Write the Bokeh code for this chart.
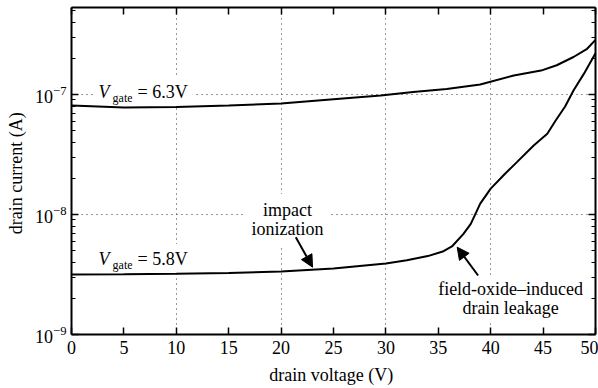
from bokeh.plotting import figure
from bokeh.models import (FixedTicker, LinearAxis, LogAxis, Label, Arrow, NormalHead, Range1d,
                          CustomJSTickFormatter)
from bokeh.embed import file_html
from bokeh.resources import INLINE

# ---------------- data ----------------
v_hi = [0, 5, 10, 15, 20, 25, 29.5, 32.6, 35.8, 39, 42.2, 44.8, 46.3, 47.9, 49.2, 50]
i_hi = [8.1e-8, 7.8e-8, 7.85e-8, 8.1e-8, 8.4e-8, 9.1e-8, 9.8e-8, 1.05e-7, 1.11e-7,
        1.21e-7, 1.44e-7, 1.58e-7, 1.75e-7, 2.05e-7, 2.4e-7, 2.85e-7]

v_lo = [0, 5, 10, 15, 20, 25, 30, 32, 34, 35.5, 36.3, 37.4, 38.1, 39, 40, 41.3, 42.5,
        44.1, 45.4, 46.2, 47.1, 47.9, 48.9, 49.8, 50]
i_lo = [3.16e-9, 3.17e-9, 3.2e-9, 3.25e-9, 3.35e-9, 3.55e-9, 3.9e-9, 4.15e-9, 4.5e-9,
        4.94e-9, 5.41e-9, 6.9e-9, 8.36e-9, 1.23e-8, 1.64e-8, 2.15e-8, 2.73e-8, 3.76e-8,
        4.7e-8, 6.07e-8, 7.94e-8, 1.08e-7, 1.49e-7, 2.05e-7, 2.2e-7]

x_ticks = [0, 5, 10, 15, 20, 25, 30, 35, 40, 45, 50]
y_ticks = [1e-9, 1e-8, 1e-7]
y_minor = [m * d for d in y_ticks for m in range(2, 10)]
x_grid = [10, 20, 30, 40]
y_grid = [1e-8, 1e-7]

label_hi = "= 6.3V"
label_lo = "= 5.8V"
x_title = "drain voltage  (V)"
y_title = "drain current  (A)"

FONT = "Liberation Serif"
FS = "18px"

p = figure(width=598, height=388, x_range=Range1d(0, 50), y_range=Range1d(1e-9, 5.3e-7),
           y_axis_type="log", output_backend="svg", toolbar_location=None,
           min_border_left=71, min_border_right=3, min_border_top=7, min_border_bottom=54)
p.outline_line_color = None
p.background_fill_color = "white"
p.border_fill_color = "white"


def style_axis(ax, show_labels=True):
    ax.axis_line_color = "black"
    ax.axis_line_width = 2
    ax.major_tick_in = 7
    ax.major_tick_out = 0
    ax.major_tick_line_width = 1.5
    ax.major_tick_line_color = "black"
    ax.minor_tick_in = 4
    ax.minor_tick_out = 0
    ax.minor_tick_line_width = 1.2
    ax.minor_tick_line_color = "black"
    ax.major_label_text_font = FONT
    ax.major_label_text_color = "black"
    ax.axis_label_text_font = FONT
    ax.axis_label_text_font_style = "normal"
    ax.axis_label_text_font_size = FS
    ax.axis_label_text_color = "black"
    if show_labels:
        ax.major_label_text_font_size = FS
    else:
        ax.major_label_text_font_size = "1px"
        ax.formatter = CustomJSTickFormatter(code="return ''")
        ax.major_label_standoff = 0


xax = p.xaxis[0]
xax.ticker = FixedTicker(ticks=x_ticks)
xax.axis_label = x_title
style_axis(xax)
xax.major_label_standoff = 6
xax.axis_label_standoff = 8

yax = p.yaxis[0]
yax.ticker = FixedTicker(ticks=y_ticks, minor_ticks=y_minor)
yax.axis_label = y_title
style_axis(yax)
yax.major_label_standoff = 5
yax.axis_label_standoff = 6

top = LinearAxis(ticker=FixedTicker(ticks=x_ticks))
style_axis(top, False)
p.add_layout(top, "above")

right = LogAxis(ticker=FixedTicker(ticks=y_ticks, minor_ticks=y_minor))
style_axis(right, False)
p.add_layout(right, "right")

p.xgrid.ticker = FixedTicker(ticks=x_grid)
p.ygrid.ticker = FixedTicker(ticks=y_grid)
for g in (p.xgrid, p.ygrid):
    g.grid_line_color = "#333333"
    g.grid_line_dash = "1 4"
    g.grid_line_width = 1

p.line(v_hi, i_hi, line_color="black", line_width=2, level="overlay")
p.line(v_lo, i_lo, line_color="black", line_width=2, level="overlay")


def lab(x, y, text, size=FS, style="normal", xo=0, yo=0, align="left",
        baseline="alphabetic", pad=3, lh=1.2):
    p.add_layout(Label(x=x, y=y, x_offset=xo, y_offset=yo, text=text, text_font=FONT,
                       text_font_size=size, text_font_style=style, text_color="black",
                       text_align=align, text_baseline=baseline, text_line_height=lh,
                       background_fill_color="white", padding=pad))


# V_gate labels
for (ax_, ay_, txt) in [(2.3, 1.04e-7, label_hi), (2.3, 4.26e-9, label_lo)]:
    lab(ax_, ay_, "V", style="italic")
    lab(ax_, ay_, "gate", size="12px", xo=16, yo=-6, pad=1)
    lab(ax_, ay_, txt, xo=37, pad=5)

lab(20.6, 9.1e-9, "impact\nionization", align="center", baseline="middle", pad=6, lh=0.95)
lab(41.9, 2.0e-9, "field-oxide\u2013induced\ndrain leakage", align="center",
    baseline="middle", pad=2, lh=0.95)

p.add_layout(Arrow(x_start=21.4, y_start=6.47e-9, x_end=23.0, y_end=3.64e-9,
                   line_width=2, line_color="black",
                   end=NormalHead(size=12, fill_color="black", line_color="black")))
p.add_layout(Arrow(x_start=38.8, y_start=3.1e-9, x_end=36.8, y_end=5.34e-9,
                   line_width=2, line_color="black",
                   end=NormalHead(size=12, fill_color="black", line_color="black")))

open("out.html", "w").write(file_html(p, INLINE))
